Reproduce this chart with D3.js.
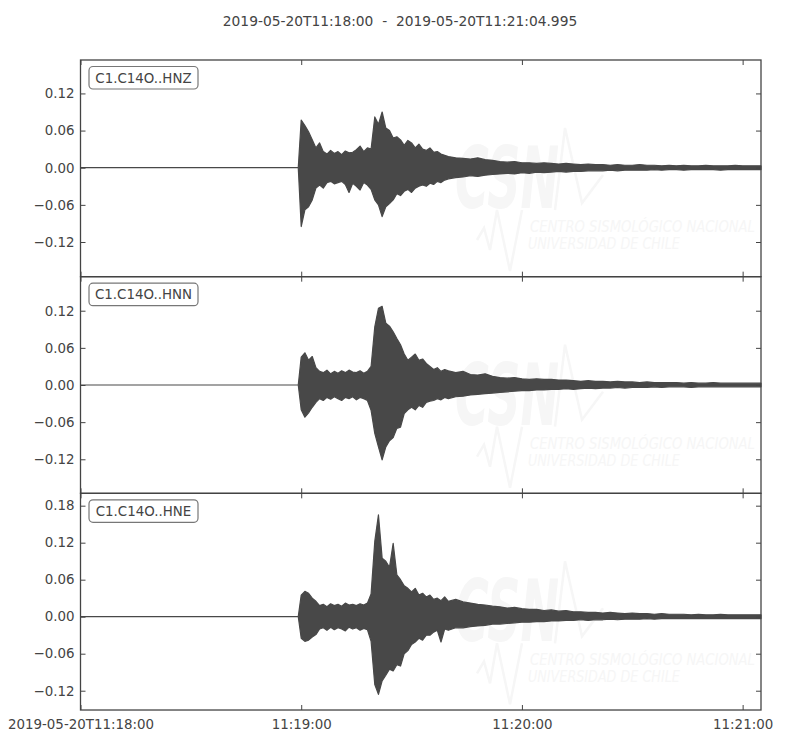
<!DOCTYPE html>
<html>
<head>
<meta charset="utf-8">
<script src="https://cdn.jsdelivr.net/npm/d3@7"></script>
<style>
  body { margin: 0; background: #fff; }
  text { font-family: "DejaVu Sans", sans-serif; }
</style>
</head>
<body>
<div id="chart"></div>
<script>
const width = 800;
const height = 750;

// Title and channel names
const title = "2019-05-20T11:18:00  -  2019-05-20T11:21:04.995";
const channels = ["C1.C14O..HNZ", "C1.C14O..HNN", "C1.C14O..HNE"];
const startMs = Date.UTC(2019, 4, 20, 11, 18, 0);
const endSec = 184.995;

// Sample times (seconds after 11:18:00) of the min/max envelope
const secs = [0, 59.2,
  60, 61, 62, 63, 64, 65, 66, 67, 68, 69,
  70, 71, 72, 73, 74, 75, 76, 77, 78, 79,
  80, 81, 82, 83, 84, 85, 86, 87, 88, 89,
  90, 91, 92, 93, 94, 95, 96, 97, 98, 99,
  100,
  102, 104, 106, 108, 110, 112, 114, 116, 118, 120,
  122, 124, 126, 128, 130, 132, 134, 136, 138, 140,
  142, 144, 146, 148, 150, 152, 154, 156, 158, 160,
  162, 164, 166, 168, 170, 172, 174, 176, 178, 180,
  182, 184,
  185];

// HNZ envelope
const zUp = [0, 0,
  0.077, 0.068, 0.058, 0.045, 0.032, 0.040, 0.026, 0.022, 0.028, 0.023,
  0.026, 0.021, 0.027, 0.024, 0.025, 0.029, 0.035, 0.026, 0.032, 0.030,
  0.082, 0.070, 0.090, 0.064, 0.060, 0.048, 0.050, 0.045, 0.036, 0.044,
  0.040, 0.032, 0.038, 0.030, 0.028, 0.032, 0.025, 0.026, 0.022, 0.020,
  0.018,
  0.016, 0.015, 0.014, 0.016, 0.013, 0.012, 0.010, 0.009, 0.010, 0.008,
  0.008, 0.007, 0.008, 0.007, 0.006, 0.007, 0.006, 0.005, 0.006, 0.005,
  0.005, 0.004, 0.005, 0.004, 0.004, 0.005, 0.004, 0.004, 0.003, 0.004,
  0.003, 0.004, 0.003, 0.003, 0.004, 0.003, 0.003, 0.003, 0.004, 0.003,
  0.003, 0.003,
  0.003];
const zLo = [0, 0,
  -0.095, -0.068, -0.063, -0.052, -0.033, -0.028, -0.033, -0.024, -0.022, -0.026,
  -0.024, -0.022, -0.027, -0.040, -0.025, -0.030, -0.036, -0.024, -0.028, -0.035,
  -0.052, -0.060, -0.079, -0.063, -0.058, -0.052, -0.042, -0.045, -0.038, -0.035,
  -0.040, -0.033, -0.030, -0.028, -0.030, -0.025, -0.027, -0.022, -0.024, -0.020,
  -0.018,
  -0.016, -0.015, -0.013, -0.014, -0.012, -0.011, -0.010, -0.009, -0.010, -0.008,
  -0.009, -0.007, -0.008, -0.007, -0.006, -0.007, -0.006, -0.006, -0.005, -0.005,
  -0.005, -0.004, -0.005, -0.004, -0.004, -0.004, -0.004, -0.003, -0.004, -0.003,
  -0.003, -0.004, -0.003, -0.003, -0.003, -0.003, -0.004, -0.003, -0.003, -0.003,
  -0.003, -0.003,
  -0.003];

// HNN envelope
const nUp = [0, 0,
  0.045, 0.052, 0.040, 0.046, 0.028, 0.022, 0.020, 0.024, 0.018, 0.022,
  0.019, 0.023, 0.020, 0.024, 0.021, 0.020, 0.023, 0.019, 0.022, 0.030,
  0.094, 0.124, 0.127, 0.100, 0.095, 0.086, 0.075, 0.065, 0.050, 0.040,
  0.045, 0.050, 0.040, 0.042, 0.035, 0.030, 0.025, 0.028, 0.022, 0.025,
  0.023,
  0.020, 0.022, 0.017, 0.016, 0.018, 0.014, 0.012, 0.011, 0.012, 0.010,
  0.009, 0.010, 0.009, 0.009, 0.008, 0.008, 0.007, 0.006, 0.007, 0.006,
  0.006, 0.005, 0.006, 0.005, 0.005, 0.004, 0.005, 0.004, 0.004, 0.004,
  0.004, 0.003, 0.004, 0.003, 0.003, 0.004, 0.003, 0.003, 0.003, 0.003,
  0.003, 0.003,
  0.003];
const nLo = [0, 0,
  -0.040, -0.052, -0.045, -0.036, -0.028, -0.022, -0.025, -0.020, -0.023, -0.019,
  -0.022, -0.025, -0.020, -0.022, -0.019, -0.024, -0.020, -0.022, -0.025, -0.041,
  -0.078, -0.100, -0.121, -0.100, -0.090, -0.085, -0.070, -0.068, -0.046, -0.040,
  -0.036, -0.040, -0.033, -0.036, -0.028, -0.026, -0.025, -0.022, -0.024, -0.020,
  -0.022,
  -0.019, -0.018, -0.016, -0.015, -0.014, -0.013, -0.012, -0.011, -0.010, -0.009,
  -0.009, -0.008, -0.008, -0.007, -0.007, -0.006, -0.007, -0.006, -0.005, -0.006,
  -0.005, -0.005, -0.004, -0.005, -0.004, -0.004, -0.004, -0.003, -0.004, -0.003,
  -0.003, -0.003, -0.004, -0.003, -0.003, -0.003, -0.003, -0.003, -0.003, -0.003,
  -0.003, -0.003,
  -0.003];

// HNE envelope
const eUp = [0, 0,
  0.035, 0.041, 0.038, 0.030, 0.025, 0.018, 0.020, 0.016, 0.021, 0.018,
  0.020, 0.017, 0.022, 0.019, 0.020, 0.018, 0.021, 0.019, 0.022, 0.037,
  0.122, 0.165, 0.095, 0.090, 0.080, 0.119, 0.068, 0.060, 0.050, 0.046,
  0.040, 0.046, 0.035, 0.038, 0.032, 0.035, 0.028, 0.030, 0.026, 0.032,
  0.025,
  0.028, 0.024, 0.022, 0.020, 0.019, 0.017, 0.016, 0.014, 0.015, 0.013,
  0.012, 0.012, 0.010, 0.011, 0.009, 0.010, 0.008, 0.008, 0.007, 0.007,
  0.006, 0.007, 0.006, 0.005, 0.006, 0.005, 0.005, 0.004, 0.005, 0.004,
  0.004, 0.004, 0.003, 0.004, 0.003, 0.003, 0.004, 0.003, 0.003, 0.003,
  0.003, 0.003,
  0.003];
const eLo = [0, 0,
  -0.035, -0.040, -0.038, -0.033, -0.029, -0.020, -0.018, -0.022, -0.017, -0.021,
  -0.018, -0.020, -0.023, -0.017, -0.020, -0.018, -0.022, -0.019, -0.021, -0.040,
  -0.110, -0.126, -0.104, -0.095, -0.085, -0.088, -0.078, -0.080, -0.060, -0.055,
  -0.045, -0.041, -0.035, -0.038, -0.030, -0.030, -0.025, -0.022, -0.041, -0.020,
  -0.022,
  -0.018, -0.018, -0.016, -0.015, -0.014, -0.012, -0.012, -0.011, -0.010, -0.009,
  -0.009, -0.008, -0.008, -0.007, -0.007, -0.006, -0.006, -0.005, -0.006, -0.005,
  -0.005, -0.004, -0.005, -0.004, -0.004, -0.004, -0.003, -0.004, -0.003, -0.003,
  -0.003, -0.003, -0.003, -0.003, -0.003, -0.003, -0.003, -0.003, -0.003, -0.003,
  -0.003, -0.003,
  -0.003];

// Axis limits and tick labels
const zRange = [-0.176, 0.174];
const nRange = [-0.175, 0.175];
const eRange = [-0.1513, 0.2];
const yTicksZN = [-0.12, -0.06, 0, 0.06, 0.12];
const yTicksE = [-0.12, -0.06, 0, 0.06, 0.12, 0.18];

// Layout and colours
const left = 80.5, right = 761;
const panelTop = 60, panelH = 216.67;
const fontSize = 13.4;
const textCol = "#444";
const traceCol = "#484848";
const markCol = "#f6f6f6";

const toDate = s => new Date(startMs + s * 1000);
const x = d3.scaleUtc()
    .domain([toDate(0), toDate(endSec)])
    .range([left, right]);

const svg = d3.select("#chart").append("svg")
    .attr("width", width)
    .attr("height", height);

svg.append("rect")
    .attr("width", width)
    .attr("height", height)
    .attr("fill", "#fff");

svg.append("text")
    .attr("x", 400)
    .attr("y", 26)
    .attr("text-anchor", "middle")
    .attr("font-size", 13.8)
    .attr("fill", textCol)
    .style("white-space", "pre")
    .text(title);

const traces = [
    {name: channels[0], up: zUp, lo: zLo, range: zRange, ticks: yTicksZN},
    {name: channels[1], up: nUp, lo: nLo, range: nRange, ticks: yTicksZN},
    {name: channels[2], up: eUp, lo: eLo, range: eRange, ticks: yTicksE}
];

// squeeze a text horizontally so it spans the wanted width
function fitText(sel, x0, y0, wanted) {
    const w = sel.node().getComputedTextLength();
    sel.attr("transform", `translate(${x0},${y0}) scale(${wanted / w},1)`);
}

// faint CSN logo behind every trace
function drawWatermark(g, top) {
    const w = g.append("g").attr("fill", markCol).attr("stroke", "none");
    const big = w.append("text")
        .attr("font-size", 86)
        .attr("font-weight", "bold")
        .attr("font-style", "italic")
        .text("CSN");
    fitText(big, 455, top + 148, 104);
    w.append("path")
        .attr("fill", "none")
        .attr("stroke", markCol)
        .attr("stroke-width", 2.5)
        .attr("d", `M555,${top + 150} L565,${top + 68} L582,${top + 143} L603,${top + 115}`);
    w.append("path")
        .attr("fill", "none")
        .attr("stroke", markCol)
        .attr("stroke-width", 2.5)
        .attr("d", `M477,${top + 180} L484,${top + 168} L490,${top + 190} L497,${top + 150} L510,${top + 211} L522,${top + 150}`);
    const l1 = w.append("text")
        .attr("font-size", 15)
        .attr("font-style", "italic")
        .text("CENTRO SISMOLÓGICO NACIONAL");
    fitText(l1, 530, top + 172, 225);
    const l2 = w.append("text")
        .attr("font-size", 15)
        .attr("font-style", "italic")
        .text("UNIVERSIDAD DE CHILE");
    fitText(l2, 528, top + 189, 152);
}

function styleAxis(a) {
    a.select(".domain").remove();
    a.selectAll("line").attr("stroke", textCol).attr("stroke-width", 1);
    a.selectAll("text")
        .attr("fill", textCol)
        .attr("font-size", fontSize)
        .style("font-family", '"DejaVu Sans", sans-serif');
}

traces.forEach(function (tr, i) {
    const top = panelTop + i * panelH;
    const bottom = top + panelH;
    const y = d3.scaleLinear().domain(tr.range).range([bottom, top]);
    const g = svg.append("g");

    drawWatermark(g, top);

    const area = d3.area()
        .x(function (d) { return x(toDate(d)); })
        .y0(function (d, j) { return y(tr.lo[j]); })
        .y1(function (d, j) { return y(tr.up[j]); });

    g.append("path")
        .datum(secs)
        .attr("d", area)
        .attr("fill", traceCol)
        .attr("stroke", traceCol)
        .attr("stroke-width", 1.2)
        .attr("stroke-linejoin", "round");

    // ticks on all four sides, pointing inward
    g.append("g")
        .attr("transform", `translate(${left},0)`)
        .call(d3.axisLeft(y).tickValues(tr.ticks).tickFormat(d3.format(".2f"))
            .tickSizeInner(-5).tickSizeOuter(0).tickPadding(6))
        .call(styleAxis);
    g.append("g")
        .attr("transform", `translate(${right},0)`)
        .call(d3.axisRight(y).tickValues(tr.ticks).tickFormat("")
            .tickSizeInner(-5).tickSizeOuter(0))
        .call(styleAxis);
    g.append("g")
        .attr("transform", `translate(0,${top})`)
        .call(d3.axisTop(x).ticks(d3.utcMinute.every(1)).tickFormat("")
            .tickSizeInner(-5).tickSizeOuter(0))
        .call(styleAxis);

    const fmt = d3.utcFormat("%H:%M:%S");
    g.append("g")
        .attr("transform", `translate(0,${bottom})`)
        .call(d3.axisBottom(x).ticks(d3.utcMinute.every(1))
            .tickFormat(function (d, k) {
                if (i < traces.length - 1) return "";
                return k === 0 ? d3.utcFormat("%Y-%m-%dT%H:%M:%S")(d) : fmt(d);
            })
            .tickSizeInner(-5).tickSizeOuter(0).tickPadding(9))
        .call(styleAxis);

    g.append("rect")
        .attr("x", left)
        .attr("y", top)
        .attr("width", right - left)
        .attr("height", panelH)
        .attr("fill", "none")
        .attr("stroke", textCol)
        .attr("stroke-width", 1.3);

    // channel label box
    g.append("rect")
        .attr("x", left + 8.5)
        .attr("y", top + 6.5)
        .attr("width", 109)
        .attr("height", 22.5)
        .attr("rx", 4)
        .attr("fill", "#fff")
        .attr("stroke", "#777")
        .attr("stroke-width", 1.2);
    g.append("text")
        .attr("x", left + 8.5 + 54.5)
        .attr("y", top + 22.5)
        .attr("text-anchor", "middle")
        .attr("font-size", fontSize)
        .attr("fill", textCol)
        .text(tr.name);
});
</script>
</body>
</html>
